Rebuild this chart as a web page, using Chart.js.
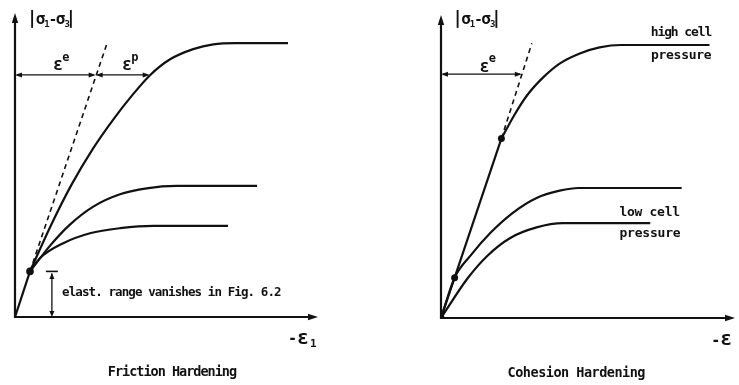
<!DOCTYPE html>
<html><head><meta charset="utf-8">
<script src="https://cdn.jsdelivr.net/npm/chart.js@4/dist/chart.umd.min.js"></script>
<style>
html,body{margin:0;padding:0;background:#fff;overflow:hidden}
#wrap{position:relative;width:739px;height:385px;background:#fff}
canvas{position:absolute;top:0}
</style></head><body>
<div id="wrap">
<canvas id="left" width="370" height="385" style="left:0"></canvas>
<canvas id="right" width="369" height="385" style="left:370px"></canvas>
</div>
<script>
// ===== Friction hardening (strain units, stress units) =====
const fhElasticX = [0, 5];
const fhElasticY = [0, 15.2];
const fhTangentX = [5, 30.7];
const fhTangentY = [15.2, 91.3];
const fhHighX = [5, 12, 18.9, 26.1, 32.8, 38.9, 45, 51.7, 59.4, 66.1, 73.3, 91];
const fhHighY = [15.2, 30.6, 44.2, 56.3, 65.9, 73.7, 80.6, 85.9, 89.3, 90.9, 91.3, 91.3];
const fhMidX = [5, 11.7, 18.3, 26.1, 35, 43.9, 53.9, 80.7];
const fhMidY = [15.2, 23.8, 30.8, 36.8, 40.9, 42.9, 43.7, 43.7];
const fhLowX = [5, 8.3, 16.1, 25, 35, 46.1, 71];
const fhLowY = [15.2, 19.6, 24.6, 27.9, 29.6, 30.4, 30.4];
const fhYieldX = [5];
const fhYieldY = [15.2];
const fhStrainLevel = 80.7;      // stress level of the eps^e / eps^p arrows
const fhElasticEnd = 26.9;       // strain where the tangent meets that level
const fhPlasticEnd = 44.9;       // strain where the curve meets that level
const fhElasticRange = [0, 15.2];
const fhRangeStrain = 12.3;

// ===== Cohesion hardening =====
const chElasticX = [0, 4.6, 20.4];
const chElasticY = [0, 13.4, 59.6];
const chTangentX = [20.4, 30.7];
const chTangentY = [59.6, 91.3];
const chHighX = [20.4, 24.7, 29.1, 34.7, 40.2, 46.9, 53.6, 60.8, 90.7];
const chHighY = [59.6, 67.3, 74, 80.1, 84.6, 87.9, 89.9, 90.7, 90.7];
const chMidX = [0, 4.6, 10.1, 16.8, 24.6, 32.3, 40.1, 46.5, 81.3];
const chMidY = [0, 13.4, 20.9, 28.4, 35.2, 39.9, 42.3, 43.2, 43.2];
const chLowX = [0, 9, 15.7, 23.4, 32.3, 41.2, 70.7];
const chLowY = [0, 13.2, 20.7, 26.6, 30.1, 31.5, 31.5];
const chYieldX = [0, 4.6, 20.4];
const chYieldY = [0, 13.4, 59.6];
const chStrainLevel = 81;
const chElasticEnd = 27.3;

const zip = (xs, ys) => xs.map((x, i) => ({x, y: ys[i]}));
const FONT = "'DejaVu Sans Mono', monospace";
const INK = '#111';

function line(ds, extra) {
  return Object.assign({data: ds, showLine: true, borderColor: INK, borderWidth: 2.2,
    pointRadius: 0, fill: false, cubicInterpolationMode: 'monotone',
    borderCapStyle: 'butt', borderJoinStyle: 'round'}, extra || {});
}
function dots(ds, r) {
  return {data: ds, showLine: false, pointRadius: r, pointBackgroundColor: INK,
    pointBorderColor: INK, pointBorderWidth: 0};
}

function head(ctx, x, y, ang, len, hw) {
  ctx.save();
  ctx.translate(x, y); ctx.rotate(ang);
  ctx.beginPath(); ctx.moveTo(0, 0); ctx.lineTo(-len, -hw); ctx.lineTo(-len, hw); ctx.closePath();
  ctx.fillStyle = INK; ctx.fill();
  ctx.restore();
}
function seg(ctx, x1, y1, x2, y2, w) {
  ctx.beginPath(); ctx.moveTo(x1, y1); ctx.lineTo(x2, y2);
  ctx.lineWidth = w; ctx.strokeStyle = INK; ctx.stroke();
}
function dimH(ctx, x1, x2, y) {
  seg(ctx, x1 + 2, y, x2 - 2, y, 1.3);
  head(ctx, x1, y, Math.PI, 7, 2.5);
  head(ctx, x2, y, 0, 7, 2.5);
}
function txt(ctx, s, x, y, size, align, ls) {
  ctx.font = 'bold ' + size + 'px ' + FONT;
  ctx.letterSpacing = (ls || 0) + 'px';
  ctx.fillStyle = INK; ctx.textAlign = align || 'left'; ctx.textBaseline = 'middle';
  ctx.fillText(s, x, y);
  const w = ctx.measureText(s).width;
  ctx.letterSpacing = '0px';
  return w;
}
function sigmaLabel(ctx, x, y) {
  const parts = [['|', 17, 0, 0.55], ['σ', 16, 0, 0.9], ['1', 9, 5, 0.8], ['-', 14, 0, 0.85],
                 ['σ', 16, 0, 0.9], ['3', 9, 5, 0.8], ['|', 17, 0, 0.6]];
  let cx = x;
  for (const [s, sz, dy, k] of parts) {
    ctx.font = 'bold ' + sz + 'px ' + FONT;
    ctx.fillStyle = INK; ctx.textAlign = 'left'; ctx.textBaseline = 'middle';
    ctx.fillText(s, cx - (s === '|' ? 3 : 0), y + dy);
    cx += ctx.measureText(s).width * k;
  }
}
function epsLabel(ctx, x, y, sup) {
  ctx.font = 'bold 17px ' + FONT; ctx.fillStyle = INK; ctx.textAlign = 'left'; ctx.textBaseline = 'middle';
  ctx.fillText('ε', x, y);
  const w = ctx.measureText('ε').width;
  ctx.font = 'bold 12px ' + FONT;
  ctx.fillText(sup, x + w - 1, y - 8);
}
function axes(ctx, ch, xEnd, yEnd) {
  const X = v => ch.scales.x.getPixelForValue(v), Y = v => ch.scales.y.getPixelForValue(v);
  seg(ctx, X(0), Y(0), X(xEnd) - 4, Y(0), 2.2);
  seg(ctx, X(0), Y(0) + 1, X(0), Y(yEnd) + 4, 2.2);
  head(ctx, X(xEnd), Y(0), 0, 10, 3.2);
  head(ctx, X(0), Y(yEnd), -Math.PI / 2, 10, 3.2);
}
function axisEps(ctx, x, y, sub) {
  txt(ctx, '-', x, y + 1, 15);
  ctx.font = 'bold 20px ' + FONT; ctx.textBaseline = 'middle'; ctx.textAlign = 'left';
  ctx.fillText('ε', x + 9, y);
  if (sub) txt(ctx, sub, x + 22, y + 6, 11);
}

const frictionPlugin = {
  id: 'friction',
  afterDatasetsDraw(ch) {
    const ctx = ch.ctx;
    const X = v => ch.scales.x.getPixelForValue(v), Y = v => ch.scales.y.getPixelForValue(v);
    axes(ctx, ch, 101, 101.33);
    sigmaLabel(ctx, X(5), Y(99));
    dimH(ctx, X(0), X(fhElasticEnd), Y(fhStrainLevel));
    dimH(ctx, X(fhElasticEnd), X(fhPlasticEnd), Y(fhStrainLevel));
    epsLabel(ctx, X(12.7), Y(83.7), 'e');
    epsLabel(ctx, X(35.7), Y(83.7), 'p');
    // elastic range dimension
    const xr = X(fhRangeStrain);
    seg(ctx, xr, Y(fhElasticRange[0]) - 2, xr, Y(fhElasticRange[1]) + 2, 1.3);
    seg(ctx, xr - 6, Y(fhElasticRange[1]), xr + 6, Y(fhElasticRange[1]), 1.6);
    head(ctx, xr, Y(fhElasticRange[1]) + 1.5, -Math.PI / 2, 6, 2.5);
    head(ctx, xr, Y(fhElasticRange[0]), Math.PI / 2, 6, 2.5);
    txt(ctx, 'elast. range vanishes in Fig. 6.2', X(15.7), Y(8), 12.5, 'left', -0.9);
    axisEps(ctx, X(91), Y(-7.2), '1');
    txt(ctx, 'Friction Hardening', X(52.3), Y(-18.6), 13.5, 'center', -1.0);
  }
};

const cohesionPlugin = {
  id: 'cohesion',
  afterDatasetsDraw(ch) {
    const ctx = ch.ctx;
    const X = v => ch.scales.x.getPixelForValue(v), Y = v => ch.scales.y.getPixelForValue(v);
    axes(ctx, ch, 99.33, 100.67);
    sigmaLabel(ctx, X(4.9), Y(99));
    dimH(ctx, X(0), X(chElasticEnd), Y(chStrainLevel));
    epsLabel(ctx, X(13), Y(83.3), 'e');
    txt(ctx, 'high cell', X(91.3), Y(94.7), 13, 'right', -1.1);
    txt(ctx, 'pressure', X(91.3), Y(87.3), 13, 'right', -0.3);
    txt(ctx, 'low cell', X(60.3), Y(35), 13, 'left', -0.3);
    txt(ctx, 'pressure', X(60.3), Y(28), 13, 'left', -0.2);
    axisEps(ctx, X(91.3), Y(-7.2), '');
    txt(ctx, 'Cohesion Hardening', X(45.7), Y(-18.6), 13.5, 'center', -0.5);
  }
};

function baseOptions(xMax, yMax, pad) {
  return {
    responsive: false, animation: false, events: [],
    layout: {padding: pad},
    plugins: {legend: {display: false}, tooltip: {enabled: false}},
    scales: {
      x: {type: 'linear', min: 0, max: xMax, display: false},
      y: {type: 'linear', min: 0, max: yMax, display: false}
    }
  };
}

new Chart(document.getElementById('left'), {
  type: 'scatter',
  data: {datasets: [
    line(zip(fhElasticX, fhElasticY), {cubicInterpolationMode: 'default', tension: 0}),
    line(zip(fhTangentX, fhTangentY), {cubicInterpolationMode: 'default', tension: 0, borderDash: [5, 4], borderWidth: 1.6}),
    line(zip(fhHighX, fhHighY)),
    line(zip(fhMidX, fhMidY)),
    line(zip(fhLowX, fhLowY)),
    dots(zip(fhYieldX, fhYieldY), 3.8)
  ]},
  options: baseOptions(101, 101.33, {left: 15, right: 52, top: 13, bottom: 68}),
  plugins: [frictionPlugin]
});

new Chart(document.getElementById('right'), {
  type: 'scatter',
  data: {datasets: [
    line(zip(chElasticX, chElasticY), {cubicInterpolationMode: 'default', tension: 0}),
    line(zip(chTangentX, chTangentY), {cubicInterpolationMode: 'default', tension: 0, borderDash: [5, 4], borderWidth: 1.6}),
    line(zip(chHighX, chHighY)),
    line(zip(chMidX, chMidY)),
    line(zip(chLowX, chLowY)),
    dots(zip(chYieldX, chYieldY), 3.5)
  ]},
  options: baseOptions(99.33, 100.67, {left: 71, right: 0, top: 15, bottom: 67}),
  plugins: [cohesionPlugin]
});
</script>
</body></html>
